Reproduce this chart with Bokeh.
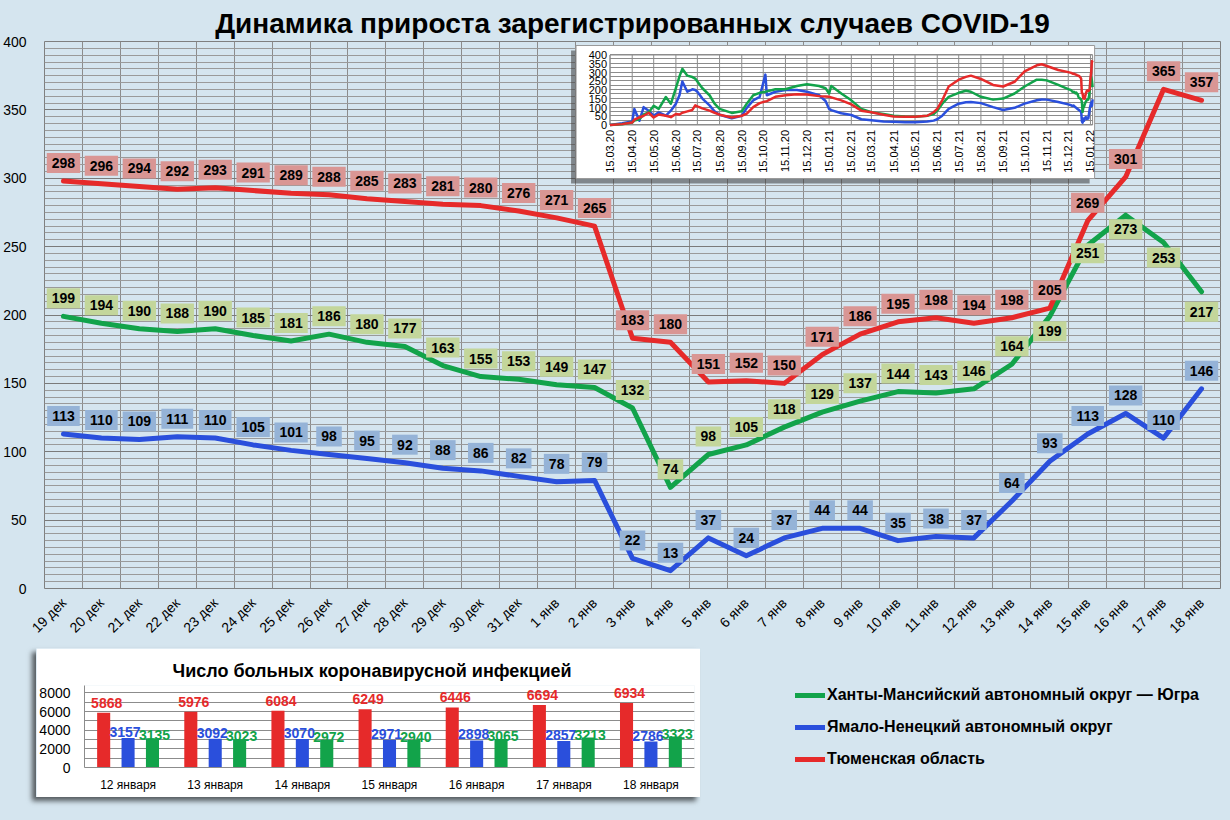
import numpy as np
import pandas as pd
from math import pi
from bokeh.plotting import figure
from bokeh.layouts import column, row
from bokeh.models import (ColumnDataSource, Range1d, FactorRange, FixedTicker,
                          SingleIntervalTicker, Legend, LegendItem)
from bokeh.transform import dodge
from bokeh.core.properties import value
from bokeh.embed import file_html
from bokeh.resources import INLINE

# daily new cases, 19 Dec 2021 - 18 Jan 2022
days = ["19 дек", "20 дек", "21 дек", "22 дек", "23 дек", "24 дек", "25 дек", "26 дек",
        "27 дек", "28 дек", "29 дек", "30 дек", "31 дек", "1 янв", "2 янв", "3 янв",
        "4 янв", "5 янв", "6 янв", "7 янв", "8 янв", "9 янв", "10 янв", "11 янв",
        "12 янв", "13 янв", "14 янв", "15 янв", "16 янв", "17 янв", "18 янв"]
khmao = [199, 194, 190, 188, 190, 185, 181, 186, 180, 177, 163, 155, 153, 149, 147, 132,
         74, 98, 105, 118, 129, 137, 144, 143, 146, 164, 199, 251, 273, 253, 217]
yanao = [113, 110, 109, 111, 110, 105, 101, 98, 95, 92, 88, 86, 82, 78, 79, 22,
         13, 37, 24, 37, 44, 44, 35, 38, 37, 64, 93, 113, 128, 110, 146]
tyumen = [298, 296, 294, 292, 293, 291, 289, 288, 285, 283, 281, 280, 276, 271, 265, 183,
          180, 151, 152, 150, 171, 186, 195, 198, 194, 198, 205, 269, 301, 365, 357]

# small chart: history since March 2020
hist_dates = ["2020-03-15", "2020-04-01", "2020-04-15", "2020-04-18", "2020-04-25", "2020-05-01",
              "2020-05-08", "2020-05-15", "2020-05-22", "2020-06-01", "2020-06-08", "2020-06-15",
              "2020-06-20", "2020-06-24", "2020-07-01", "2020-07-08", "2020-07-12", "2020-07-15",
              "2020-07-22", "2020-08-01", "2020-08-08", "2020-08-15", "2020-09-01", "2020-09-15",
              "2020-09-22", "2020-10-01", "2020-10-10", "2020-10-18", "2020-10-20", "2020-11-01",
              "2020-11-15", "2020-12-01", "2020-12-15", "2021-01-01", "2021-01-10", "2021-01-15",
              "2021-01-18", "2021-02-01", "2021-02-15", "2021-03-01", "2021-03-15", "2021-04-01",
              "2021-04-15", "2021-05-01", "2021-05-15", "2021-06-01", "2021-06-10", "2021-06-15",
              "2021-06-22", "2021-07-01", "2021-07-15", "2021-07-25", "2021-08-01", "2021-08-15",
              "2021-09-01", "2021-09-15", "2021-10-01", "2021-10-15", "2021-11-01", "2021-11-08",
              "2021-11-15", "2021-12-01", "2021-12-15"]
hist_khmao = [0, 4, 14, 25, 33, 60, 72, 110, 92, 160, 122, 210, 278, 321, 282, 274, 265, 249,
              210, 170, 122, 92, 69, 78, 122, 170, 184, 190, 192, 204, 204, 223, 233, 223, 210,
              180, 223, 180, 141, 92, 73, 63, 53, 49, 47, 53, 63, 82, 122, 161, 184, 196, 190,
              161, 145, 151, 180, 220, 259, 258, 255, 229, 205]
hist_yanao = [0, 10, 20, 92, 24, 102, 82, 53, 72, 53, 82, 122, 170, 249, 190, 204, 200, 190,
              151, 112, 78, 59, 39, 53, 98, 141, 161, 288, 170, 190, 200, 200, 190, 170, 137,
              92, 85, 67, 57, 33, 27, 20, 18, 16, 16, 20, 25, 33, 53, 92, 122, 130, 131, 125,
              102, 86, 98, 122, 141, 146, 145, 131, 118]
hist_tyumen = [0, 5, 14, 30, 43, 53, 70, 43, 60, 53, 45, 63, 60, 70, 78, 86, 112, 106, 95, 82,
               70, 59, 43, 53, 65, 102, 125, 135, 136, 161, 170, 176, 174, 165, 163, 161, 158,
               141, 118, 82, 73, 59, 49, 47, 47, 53, 73, 92, 141, 220, 259, 275, 282, 263, 229,
               220, 247, 306, 341, 347, 337, 314, 302]

# bar chart: number of patients
bar_days = ["12 января", "13 января", "14 января", "15 января", "16 января", "17 января", "18 января"]
bar_tyumen = [5868, 5976, 6084, 6249, 6446, 6694, 6934]
bar_yanao = [3157, 3092, 3070, 2971, 2898, 2857, 2786]
bar_khmao = [3135, 3023, 2972, 2940, 3065, 3213, 3323]

names = ["Ханты-Мансийский автономный округ — Югра", "Ямало-Ненецкий автономный округ",
         "Тюменская область"]

RED, GREEN, BLUE = "#e62a2a", "#12a34a", "#2a4fdc"
RED_BOX, GREEN_BOX, BLUE_BOX = "#d99694", "#c3d69b", "#95b3d7"
BG = "#d5e5ef"
GRID = "#8c8c8c"
FONT = "Liberation Sans"

# ---------------- main chart ----------------
W, H = 1230, 648
FL, FR, FT, FB = 43, 1220, 41, 588   # plot area in px


def px_x(px):
    return -0.5 + (px - FL) / (FR - FL) * len(days)


def px_y(py):
    return (FB - py) / (FB - FT) * 400


idx = np.arange(len(days))
p = figure(width=W, height=H, x_range=Range1d(-0.5, len(days) - 0.5), y_range=Range1d(0, 400),
           output_backend="svg", toolbar_location=None,
           min_border_left=FL, min_border_right=W - FR, min_border_top=FT, min_border_bottom=H - FB,
           background_fill_color=BG, border_fill_color=BG, outline_line_color="#7f7f7f")
p.title.text = "Динамика прироста зарегистрированных случаев COVID-19"
p.title.align = "center"
p.title.text_font = FONT
p.title.text_font_size = "28px"
p.title.text_font_style = "bold"
p.title.text_color = "black"
p.title.standoff = 6

p.xaxis.ticker = FixedTicker(ticks=list(idx))
p.xaxis.major_label_overrides = {int(i): d for i, d in zip(idx, days)}
p.xaxis.major_label_orientation = pi / 4
p.xaxis.axis_line_color = None
p.xaxis.major_tick_line_color = None
p.xaxis.major_label_standoff = 6
p.xgrid.ticker = FixedTicker(ticks=list(np.arange(len(days) + 1) - 0.5))
p.xgrid.grid_line_color = GRID

p.yaxis.ticker = SingleIntervalTicker(interval=50, num_minor_ticks=10)
p.yaxis.axis_line_color = None
p.yaxis.major_tick_line_color = None
p.yaxis.minor_tick_line_color = None
p.yaxis.major_label_standoff = 12
p.ygrid.grid_line_color = "#7a7a7a"
p.ygrid.minor_grid_line_color = "#9a9a9a"
for ax in (p.xaxis, p.yaxis):
    ax.major_label_text_font = FONT
    ax.major_label_text_font_size = "14px"
    ax.major_label_text_color = "black"

series = [(yanao, BLUE, BLUE_BOX), (khmao, GREEN, GREEN_BOX), (tyumen, RED, RED_BOX)]
for vals, col, _ in series:
    p.line(idx, vals, line_color=col, line_width=5, line_join="round", line_cap="round")

# label offsets in px (labels of the last Югра points sit under the line)
up = [-18] * len(days)
khmao_dy = up[:26] + [15, 8, 14, 15, 20]
for (vals, col, box), dy in zip(series, [up, khmao_dy, up]):
    p.text(idx, vals, text=[str(v) for v in vals], y_offset=dy,
           text_align="center", text_baseline="middle", text_color="black",
           text_font=value(FONT), text_font_size="14px", text_font_style="bold",
           background_fill_color=box, padding=5)

# ---------------- inset: whole epidemic ----------------
to_ms = lambda d: (pd.to_datetime(pd.Series(d)).astype("int64") // 10**6).to_numpy()
main_dates = pd.date_range("2021-12-19", periods=len(days))
all_ms = np.concatenate([to_ms(hist_dates), to_ms(main_dates)])
ins_ticks = pd.date_range("2020-03-15", "2022-01-15", freq=pd.DateOffset(months=1))
tick_ms = to_ms(ins_ticks)
tick_lbl = [t.strftime("%d.%m.%y") for t in ins_ticks]

p.quad(left=px_x(570), right=px_x(1089), top=px_y(50), bottom=px_y(183),
       fill_color="#3a3a3a", fill_alpha=0.55, line_color=None)
p.quad(left=px_x(575), right=px_x(1094), top=px_y(45), bottom=px_y(178),
       fill_color="white", line_color="#9a9a9a")

sub = p.subplot(x_source=Range1d(all_ms[0], all_ms[-1]), y_source=Range1d(0, 400),
                x_target=Range1d(px_x(609), px_x(1092)), y_target=Range1d(px_y(124.5), px_y(54.5)))
yt = np.arange(0, 401, 25)
sub.segment(x0=all_ms[0], y0=yt, x1=all_ms[-1], y1=yt, line_color=GRID, line_width=1)
sub.segment(x0=tick_ms, y0=0, x1=tick_ms, y1=400, line_color=GRID, line_width=1)
sub.quad(left=all_ms[0], right=all_ms[-1], bottom=0, top=400, fill_alpha=0, line_color=GRID)
ylab = np.arange(0, 401, 50)
sub.text(x=all_ms[0], y=ylab, text=[str(v) for v in ylab], x_offset=-3,
         text_align="right", text_baseline="middle", text_font=value(FONT),
         text_font_size="11px", text_color="black")
sub.text(x=tick_ms, y=0, text=tick_lbl, angle=pi / 2, y_offset=5,
         text_align="right", text_baseline="middle", text_font=value(FONT),
         text_font_size="11px", text_color="black")
for hist, main, col in [(hist_yanao, yanao, BLUE), (hist_khmao, khmao, GREEN),
                        (hist_tyumen, tyumen, RED)]:
    sub.line(all_ms, list(hist) + list(main), line_color=col, line_width=2.5, line_join="round")

# ---------------- bar chart ----------------
bsrc = ColumnDataSource(dict(day=bar_days, tyumen=bar_tyumen, yanao=bar_yanao, khmao=bar_khmao,
                             t_tyumen=[str(v) for v in bar_tyumen], t_yanao=[str(v) for v in bar_yanao],
                             t_khmao=[str(v) for v in bar_khmao]))
bar = figure(x_range=FactorRange(*bar_days), y_range=Range1d(0, 8800), width=664, height=149,
             output_backend="svg", toolbar_location=None,
             min_border_left=45, min_border_right=6, min_border_top=35, min_border_bottom=30,
             background_fill_color="white", border_fill_color="white", outline_line_color=None)
bar.margin = (0, 0, 23, 36)
bar.styles = {"box-shadow": "-4px 4px 5px rgba(0,0,0,0.6)"}
bar.title.text = "Число больных коронавирусной инфекцией"
bar.title.align = "left"
bar.title.offset = 88
bar.title.text_font = FONT
bar.title.text_font_size = "18px"
bar.title.text_font_style = "bold"
bar.title.text_color = "black"
bar.yaxis.ticker = FixedTicker(ticks=[0, 2000, 4000, 6000, 8000], minor_ticks=[1000, 3000, 5000, 7000])
bar.ygrid.grid_line_color = GRID
bar.ygrid.minor_grid_line_color = GRID
bar.xgrid.grid_line_color = None
for ax in (bar.xaxis, bar.yaxis):
    ax.axis_line_color = GRID
    ax.major_tick_line_color = None
    ax.minor_tick_line_color = None
    ax.major_label_text_font = FONT
    ax.major_label_text_color = "black"
bar.yaxis.major_label_text_font_size = "14px"
bar.yaxis.major_label_standoff = 8
bar.xaxis.major_label_text_font_size = "12px"
bar.xaxis.major_label_standoff = 4

for key, col, off, dx, dy in [("tyumen", RED, -0.28, 3, -5), ("yanao", BLUE, 0.0, -3, -1),
                              ("khmao", GREEN, 0.28, 2, 2)]:
    bar.vbar(x=dodge("day", off, range=bar.x_range), top=key, width=0.15, source=bsrc,
             fill_color=col, line_color=None)
    bar.text(x=dodge("day", off, range=bar.x_range), y=key, text="t_" + key, source=bsrc,
             x_offset=dx, y_offset=dy, text_align="center", text_baseline="bottom",
             text_color=col, text_font=value(FONT), text_font_size="14px", text_font_style="bold")

# ---------------- legend ----------------
# the frame's top-left corner is where the legend box starts; its ranges keep the
# series lines themselves out of sight, only their legend keys are drawn
leg = figure(width=W - 700, height=172, x_range=Range1d(0, 1), y_range=Range1d(-2, -1),
             x_axis_type=None, y_axis_type=None, min_border_left=95, min_border_top=37,
             min_border_right=0, min_border_bottom=0, output_backend="svg",
             toolbar_location=None, background_fill_color=BG, border_fill_color=BG,
             outline_line_color=None)
items = []
for name, vals, col in zip(names, [khmao, yanao, tyumen], [GREEN, BLUE, RED]):
    r = leg.line(idx, vals, line_color=col, line_width=5, line_cap="round")
    items.append(LegendItem(label=name, renderers=[r]))
legend = Legend(items=items, location="top_left", margin=0, glyph_width=30, glyph_height=20,
                label_height=20, spacing=12, padding=5, label_standoff=2, border_line_color=None,
                background_fill_alpha=0, label_text_font=FONT, label_text_font_size="16px",
                label_text_font_style="bold", label_text_color="black")
leg.add_layout(legend)

layout = column(p, row(bar, leg))
layout.styles = {"background-color": BG}

open("out.html", "w").write(file_html(layout, INLINE))
